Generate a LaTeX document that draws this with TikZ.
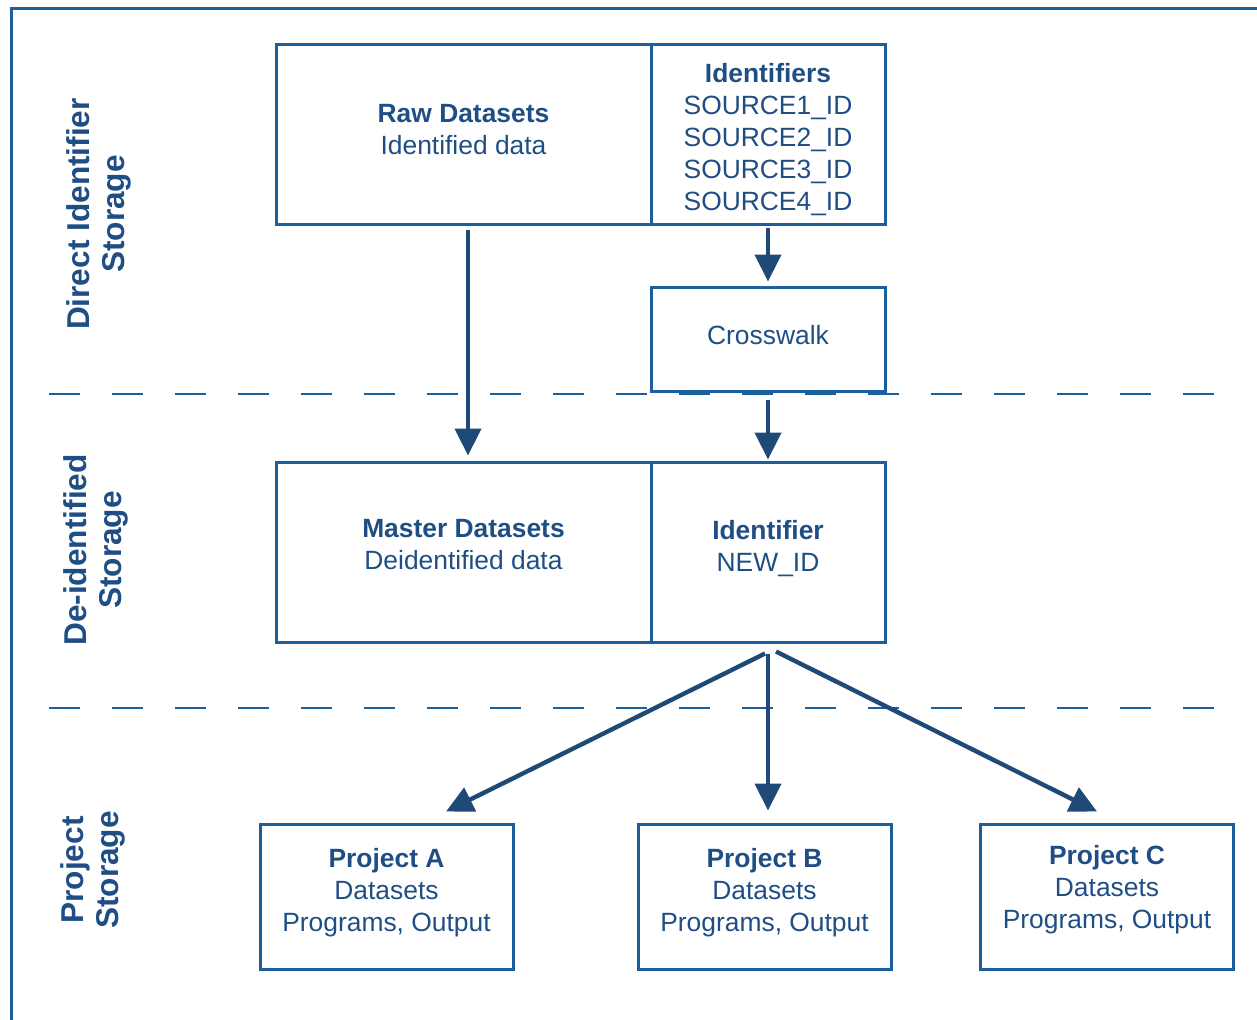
\documentclass[tikz,border=0pt]{standalone}
\usepackage{fontspec}
\setmainfont{Liberation Sans}
\usetikzlibrary{arrows.meta}
\definecolor{boxblue}{HTML}{1C5F9F}
\definecolor{textblue}{HTML}{1F4E85}
\definecolor{arrowblue}{HTML}{1F4A77}

\begin{document}
\begin{tikzpicture}[x=0.5pt,y=-0.5pt]
    \tikzstyle{box}         = [draw=boxblue,line width=1.5pt,rectangle,inner sep=0pt]
    \tikzstyle{wide box}    = [box,minimum width=187.5pt,minimum height=90pt]
    \tikzstyle{id box}      = [box,minimum width=117pt,minimum height=90pt]
    \tikzstyle{project box} = [box,minimum width=126.5pt,minimum height=72.5pt]
    \tikzstyle{box text}    = [align=center,text=textblue,font=\fontsize{13.2}{16}\selectfont,inner sep=0pt]
    \tikzstyle{zone}        = [rotate=90,align=center,text=textblue,font=\fontsize{15.8}{17.5}\selectfont\bfseries]
    \tikzstyle{flow}        = [-{Triangle[width=13pt,length=13.5pt]},arrowblue,line width=2.2pt]
    \tikzstyle{divider}     = [boxblue,line width=1.3pt,dash pattern=on 15.5pt off 16pt]

    \useasboundingbox (0,0) rectangle (1257,1019);
    \draw[boxblue,line width=1.5pt] (11,1030) -- (11,8) -- (1270,8);

    \node[zone] (direct) at (99,214)  {Direct Identifier\\Storage};
    \node[zone] (deid)   at (96,550)  {De-identified\\Storage};
    \node[zone] (proj)   at (93,870)  {Project\\Storage};

    \draw[divider] (49,394) -- (1222,394);
    \draw[divider] (49,708) -- (1222,708);

    \node[wide box] (raw)    at (463.5,134) {};
    \node[id box]   (ids)    at (768,134)   {};
    \node[box,minimum width=117pt,minimum height=52pt] (cw) at (768,339) {};
    \node[wide box] (master) at (463.5,552) {};
    \node[id box]   (newid)  at (768,552)   {};

    \node[project box] (pa) at (386.5,896.5) {};
    \node[project box] (pb) at (764.5,896.5) {};
    \node[project box] (pc) at (1107,896.5)  {};

    \node[box text] (rawtxt)    at ([yshift=2pt]raw)     {\textbf{Raw Datasets}\\Identified data};
    \node[box text] (idstxt)    at ([yshift=-3pt]ids)    {\textbf{Identifiers}\\SOURCE1\_ID\\SOURCE2\_ID\\SOURCE3\_ID\\SOURCE4\_ID};
    \node[box text] (cwtxt)     at ([yshift=2pt]cw)      {Crosswalk};
    \node[box text] (mastertxt) at ([yshift=3.5pt]master) {\textbf{Master Datasets}\\Deidentified data};
    \node[box text] (newidtxt)  at ([yshift=1.5pt]newid)  {\textbf{Identifier}\\NEW\_ID};
    \node[box text] (patxt)     at ([yshift=2pt]pa)      {\textbf{Project A}\\Datasets\\Programs, Output};
    \node[box text] (pbtxt)     at ([yshift=2pt]pb)      {\textbf{Project B}\\Datasets\\Programs, Output};
    \node[box text] (pctxt)     at ([yshift=3.5pt]pc)    {\textbf{Project C}\\Datasets\\Programs, Output};

    \draw[flow,shorten <=2pt,shorten >=2.5pt] ([xshift=2.25pt]raw.south) -- ([xshift=2.25pt]master.north);
    \draw[flow,shorten <=1pt,shorten >=2pt]   (ids.south) -- (cw.north);
    \draw[flow,shorten <=3.5pt,shorten >=0.5pt] (cw.south) -- (newid.north);
    \draw[flow] ([xshift=-1.5pt,yshift=-5pt]newid.south) -- ([xshift=29.75pt,yshift=5.5pt]pa.north);
    \draw[flow,shorten <=5pt,shorten >=6pt] (newid.south) -- (newid.south |- pb.north);
    \draw[flow] ([xshift=4pt,yshift=-4pt]newid.south) -- ([xshift=-5pt,yshift=5.5pt]pc.north);
\end{tikzpicture}
\end{document}
